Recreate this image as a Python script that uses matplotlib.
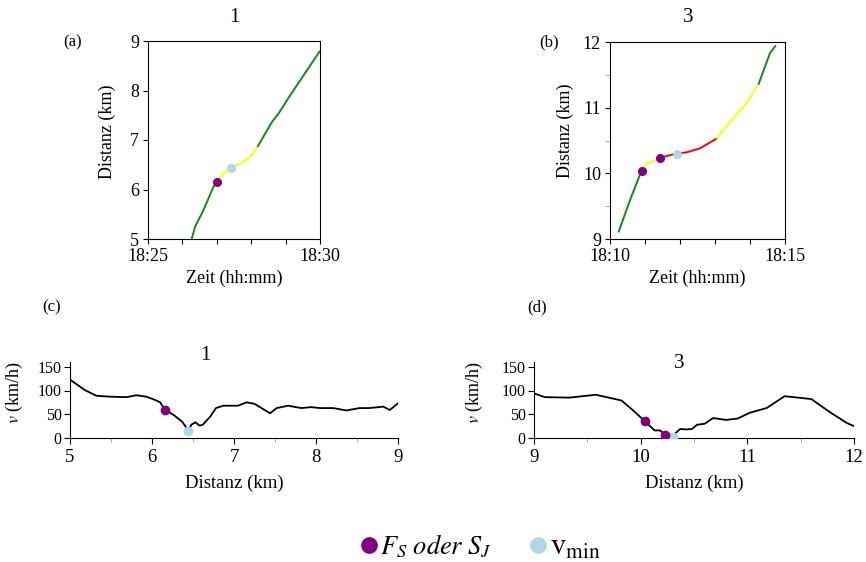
import matplotlib
matplotlib.use("Agg")
import matplotlib.pyplot as plt
from matplotlib.lines import Line2D
from matplotlib.ticker import MultipleLocator, FixedLocator, FuncFormatter

plt.rcParams['font.family'] = ['Liberation Serif', 'DejaVu Serif']
plt.rcParams['mathtext.fontset'] = 'stix'

# colours of the trajectory segments
GREEN = '#138a13'
YELLOW = '#ffff00'
RED = '#ff0000'
PURPLE = '#800080'
LIGHTBLUE = '#add8e6'

# --- trajectory 1: time in minutes after 18:00, distance in km ---
traj1_segments = [
    (GREEN, [26.27, 26.37, 26.61, 26.90, 27.00], [5.00, 5.25, 5.58, 6.05, 6.15]),
    (YELLOW, [27.00, 27.14, 27.40, 27.77, 28.01, 28.18], [6.15, 6.29, 6.44, 6.55, 6.69, 6.86]),
    (GREEN, [28.18, 28.60, 28.79, 29.13, 30.00], [6.86, 7.36, 7.53, 7.90, 8.80]),
]
traj1_fs_t = [27.00]
traj1_fs_d = [6.15]
traj1_vmin_t = [27.40]
traj1_vmin_d = [6.44]

# --- trajectory 3 ---
traj3_segments = [
    (GREEN, [10.24, 10.55, 10.90], [9.10, 9.56, 10.04]),
    (YELLOW, [10.90, 11.05, 11.43, 11.52], [10.04, 10.15, 10.23, 10.25]),
    (RED, [11.52, 11.90, 12.19, 12.57, 13.05], [10.25, 10.30, 10.32, 10.38, 10.53]),
    (YELLOW, [13.05, 13.52, 13.90, 14.24], [10.53, 10.84, 11.07, 11.35]),
    (GREEN, [14.24, 14.57, 14.74], [11.35, 11.83, 11.95]),
]
traj3_fs_t = [10.90, 11.43]
traj3_fs_d = [10.04, 10.23]
traj3_vmin_t = [11.90]
traj3_vmin_d = [10.30]

# --- speed profiles: distance (km), speed (km/h) ---
v1_x = [5.00, 5.18, 5.32, 5.49, 5.69, 5.81, 5.93, 6.04, 6.10, 6.16, 6.26, 6.37,
        6.44, 6.48, 6.53, 6.58, 6.62, 6.71, 6.78, 6.87, 7.05, 7.15, 7.25, 7.44,
        7.52, 7.66, 7.82, 7.94, 8.05, 8.21, 8.37, 8.53, 8.65, 8.82, 8.90, 9.00]
v1_v = [123, 101, 89, 87, 86, 90, 87, 80, 75, 59, 49, 34,
        16, 28, 33, 26, 28, 45, 63, 68, 68, 75, 72, 52,
        63, 68, 63, 65, 63, 63, 58, 63, 63, 66, 59, 73]
v1_fs_x = [6.16]
v1_fs_v = [60]
v1_vmin_x = [6.44]
v1_vmin_v = [15]

v3_x = [9.00, 9.10, 9.33, 9.58, 9.82, 9.93, 10.04, 10.13, 10.18, 10.23, 10.27,
        10.30, 10.34, 10.37, 10.43, 10.48, 10.53, 10.60, 10.68, 10.80, 10.91,
        11.02, 11.18, 11.35, 11.60, 11.77, 11.93, 12.00]
v3_v = [94, 86, 85, 91, 79, 58, 35, 16, 16, 8, 8,
        4, 13, 19, 18, 19, 28, 30, 42, 38, 41,
        53, 63, 88, 82, 55, 32, 25]
v3_fs_x = [10.04, 10.23]
v3_fs_v = [35, 7]
v3_vmin_x = [10.30]
v3_vmin_v = [3]

W, H = 866, 562
fig = plt.figure(figsize=(W / 100, H / 100), dpi=100)


def box(x0, y0, x1, y1):
    # pixel box (left, top, right, bottom) -> figure fraction rect
    return [x0 / W, 1 - y1 / H, (x1 - x0) / W, (y1 - y0) / H]


def minute_fmt(base):
    return FuncFormatter(lambda m, pos: f"18:{int(round(m)):02d}" if round(m) in base else "")


def trajectory(ax, segments, fs_t, fs_d, vm_t, vm_d, t0, ylim, minor_y):
    for color, t, d in segments:
        ax.plot(t, d, color=color, lw=1.4, solid_capstyle='butt')
    ax.plot(fs_t, fs_d, 'o', color=PURPLE, ms=5.5, zorder=5)
    ax.plot(vm_t, vm_d, 'o', color=LIGHTBLUE, ms=5.5, zorder=5)
    ax.set_xlim(t0, t0 + 5)
    ax.set_ylim(*ylim)
    ax.xaxis.set_major_locator(MultipleLocator(1))
    ax.xaxis.set_major_formatter(minute_fmt({t0, t0 + 5}))
    ax.yaxis.set_major_locator(MultipleLocator(1))
    if minor_y:
        ax.yaxis.set_minor_locator(MultipleLocator(0.5))
        ax.tick_params(axis='y', which='minor', length=3.5, color='#999999')
    ax.tick_params(which='major', length=3.5, labelsize=13, direction='out', pad=3)
    ax.set_xlabel('Zeit (hh:mm)', fontsize=13, labelpad=3)
    ax.set_ylabel('Distanz (km)', fontsize=13)


def speed(ax, x, v, fs_x, fs_v, vm_x, vm_v, xlim):
    ax.plot(x, v, color='black', lw=1.3)
    ax.plot(vm_x, vm_v, 'o', color=LIGHTBLUE, ms=6, zorder=5)
    ax.plot(fs_x, fs_v, 'o', color=PURPLE, ms=6, zorder=5)
    ax.set_xlim(*xlim)
    ax.set_ylim(0, 160)
    ax.xaxis.set_major_locator(MultipleLocator(1))
    ax.xaxis.set_minor_locator(MultipleLocator(0.5))
    ax.yaxis.set_major_locator(FixedLocator([0, 50, 100, 150]))
    ax.spines['top'].set_visible(False)
    ax.spines['right'].set_visible(False)
    ax.tick_params(axis='x', which='major', length=4, labelsize=13.5, pad=4)
    ax.tick_params(axis='x', which='minor', length=3, color='#999999')
    ax.tick_params(axis='y', which='major', length=4, labelsize=11.5, pad=2)
    ax.set_xlabel('Distanz (km)', fontsize=13.5, labelpad=6)
    ax.set_ylabel(r'$v$ (km/h)', fontsize=13)


ax_a = fig.add_axes(box(148, 41, 320, 239))
trajectory(ax_a, traj1_segments, traj1_fs_t, traj1_fs_d, traj1_vmin_t, traj1_vmin_d,
           25, (5, 9), False)
ax_a.yaxis.set_label_coords(-0.186, 0.54)
ax_b = fig.add_axes(box(610, 42, 785, 239))
trajectory(ax_b, traj3_segments, traj3_fs_t, traj3_fs_d, traj3_vmin_t, traj3_vmin_d,
           10, (9, 12), True)
ax_b.yaxis.set_label_coords(-0.203, 0.548)

ax_c = fig.add_axes(box(70, 362, 398, 438))
speed(ax_c, v1_x, v1_v, v1_fs_x, v1_fs_v, v1_vmin_x, v1_vmin_v, (5, 9))
ax_c.yaxis.set_label_coords(-0.137, 0.6)
ax_d = fig.add_axes(box(534, 362, 854, 438))
speed(ax_d, v3_x, v3_v, v3_fs_x, v3_fs_v, v3_vmin_x, v3_vmin_v, (9, 12))
ax_d.yaxis.set_label_coords(-0.153, 0.6)

# titles and panel letters
fig.text(234 / W, 1 - 18 / H, '1', fontsize=15, ha='center', va='center')
fig.text(688 / W, 1 - 18 / H, '3', fontsize=15, ha='center', va='center')
fig.text(205 / W, 1 - 355 / H, '1', fontsize=15, ha='center', va='center')
fig.text(679 / W, 1 - 364 / H, '3', fontsize=15, ha='center', va='center')
for lbl, x, y in [('(a)', 73, 42), ('(b)', 549, 42), ('(c)', 52, 307), ('(d)', 537, 307)]:
    fig.text(x / W, 1 - y / H, lbl, fontsize=12, ha='center', va='center')

handles = [
    Line2D([], [], ls='none', marker='o', ms=11, color=PURPLE),
    Line2D([], [], ls='none', marker='o', ms=11, color=LIGHTBLUE),
]
leg = fig.legend(handles, [r'$F_S\ oder\ S_J$', r'$\mathrm{v}_{\mathrm{min}}$'],
                 loc='center left', bbox_to_anchor=(358 / W, 1 - 547 / H), ncol=2,
                 frameon=False, fontsize=19, handletextpad=0.05, columnspacing=1.35,
                 handlelength=0.8, borderpad=0, borderaxespad=0)
leg.get_texts()[1].set_fontsize(22)

fig.savefig('out.png', dpi=100)
